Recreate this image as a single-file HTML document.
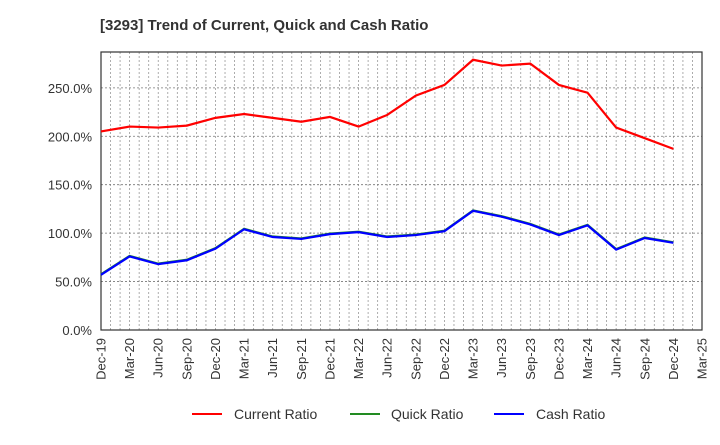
<!DOCTYPE html>
<html><head><meta charset="utf-8"><style>
body{margin:0;background:#fff;font-family:"Liberation Sans",sans-serif}
svg text{font-family:"Liberation Sans",sans-serif}
</style></head><body>
<svg id="c" width="720" height="440">
<text x="100" y="30" font-size="15" font-weight="bold" fill="#333">[3293]  Trend of Current, Quick and Cash Ratio</text>
<g id="grid"></g><g id="axes"></g><g id="series"></g>
<g>
<line x1="192" y1="414" x2="222" y2="414" stroke="#f00" stroke-width="2"/><text x="234" y="419" font-size="14" fill="#333">Current Ratio</text>
<line x1="350" y1="414" x2="380" y2="414" stroke="#228B22" stroke-width="2"/><text x="391" y="419" font-size="14" fill="#333">Quick Ratio</text>
<line x1="494" y1="414" x2="524" y2="414" stroke="#00f" stroke-width="2"/><text x="536" y="419" font-size="14" fill="#333">Cash Ratio</text>
</g>
</svg>
<script>
const categories=["Dec-19","Mar-20","Jun-20","Sep-20","Dec-20","Mar-21","Jun-21","Sep-21","Dec-21","Mar-22","Jun-22","Sep-22","Dec-22","Mar-23","Jun-23","Sep-23","Dec-23","Mar-24","Jun-24","Sep-24","Dec-24","Mar-25"];
const currentRatio=[205,210,209,211,219,223,219,215,220,210,222,242,253,279,273,275,253,245,209,198,187];
const quickRatio=[57.5,76.5,68.5,72.5,84.5,104.5,96.5,94.5,99.5,101.5,96.5,98.5,102.5,123.5,117.5,109.5,98.5,108.5,83.5,95.5,90.5];
const cashRatio=[57,76,68,72,84,104,96,94,99,101,96,98,102,123,117,109,98,108,83,95,90];
const yTicks=[0,50,100,150,200,250];
const L=101,R=702,T=52,B=330,YMAX=287;
const ns="http://www.w3.org/2000/svg";
const xq=i=>L+i*(R-L)/(categories.length-1);
const y=v=>B-v*(B-T)/YMAX;
function mk(t,a,p){const e=document.createElementNS(ns,t);for(const k in a)e.setAttribute(k,a[k]);p.appendChild(e);return e;}
const g=document.getElementById('grid'),ax=document.getElementById('axes'),s=document.getElementById('series');
const months=(categories.length-1)*3;
for(let m=1;m<months;m++){const X=L+m*(R-L)/months;
const l=mk('line',{x1:X,x2:X,y1:T,y2:B,stroke:'#999','stroke-dasharray':'2,2','stroke-width':0.8},g);

}
yTicks.forEach(v=>{
const l=mk('line',{x1:L,x2:R,y1:y(v),y2:y(v),stroke:'#777','stroke-dasharray':'2,2','stroke-width':0.8},g);


const t=mk('text',{x:L-9,y:y(v)+5,'text-anchor':'end','font-size':13,fill:'#333'},ax);t.textContent=v.toFixed(1)+'%';

});
const f=mk('rect',{x:L,y:T,width:R-L,height:B-T,fill:'none',stroke:'#333','stroke-width':1.2},ax);


categories.forEach((c,i)=>{const X=xq(i)+4.5;
const t=mk('text',{x:X,y:B+8,'text-anchor':'end','font-size':13,fill:'#333',transform:`rotate(-90 ${X} ${B+8})`},ax);t.textContent=c;

});
[[quickRatio,'#228B22','quick-ratio-line'],[cashRatio,'#00f','cash-ratio-line'],[currentRatio,'#f00','current-ratio-line']].forEach(([d,col,n])=>{
const p=mk('polyline',{points:d.map((v,i)=>xq(i)+','+y(v)).join(' '),fill:'none',stroke:col,'stroke-width':2.2},s);

});
</script>
</body></html>
